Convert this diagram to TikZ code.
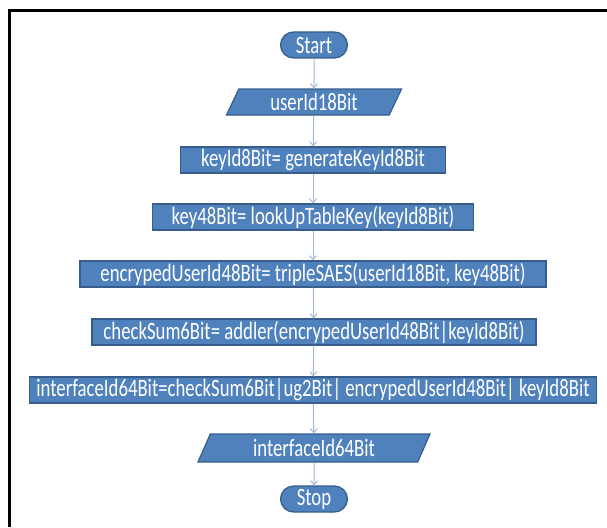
\documentclass[tikz,border=0pt]{standalone}
\usepackage{fontspec}
\newfontfamily\flowfont{Carlito}[FakeStretch=0.75]
\usepackage{tikz}
\usetikzlibrary{shapes,arrows,positioning,calc,arrows.meta}

\definecolor{boxblue}{RGB}{79,129,189}
\definecolor{boxedge}{RGB}{56,93,138}
\definecolor{flowline}{RGB}{160,185,215}

\tikzset{
    base/.style={draw=boxedge, line width=1.2pt, fill=boxblue, text=white,
        font=\flowfont\fontsize{25}{28}\selectfont, inner sep=0pt},
    term/.style={base, rounded rectangle, minimum width=67, minimum height=26},
    io/.style={base, trapezium, trapezium left angle=55, trapezium right angle=125,
        trapezium stretches body, minimum height=26},
    proc/.style={base, rectangle, minimum height=26},
    flow/.style={draw=flowline, line width=1pt, -{Straight Barb[length=4pt,width=7pt]}}
}

\begin{document}
\begin{tikzpicture}[x=1pt, y=-1pt]
    \useasboundingbox (0,0) rectangle (607,527);
    % frame
    \draw [line width=3pt] (9,527) -- (9,11) -- (607,11);

    % flow chart
    \node [term] (start) at (314,45) {Start};
    \node [io, minimum width=175] (userid) at (314,102) {userId18Bit};
    \node [proc, minimum width=265] (keyid) at (313,160) {keyId8Bit= generateKeyId8Bit};
    \node [proc, minimum width=321] (key) at (313,217) {key48Bit= lookUpTableKey(keyId8Bit)};
    \node [proc, minimum width=466] (encrypt) at (313,274) {encrypedUserId48Bit= tripleSAES(userId18Bit, key48Bit)};
    \node [proc, minimum width=444] (checksum) at (314,332) {checkSum6Bit= addler(encrypedUserId48Bit|keyId8Bit)};
    \node [proc, minimum width=567] (iface) at (313,390) {interfaceId64Bit=checkSum6Bit|ug2Bit| encrypedUserId48Bit| keyId8Bit};
    \node [io, minimum width=232, minimum height=28] (ifaceout) at (314,448) {interfaceId64Bit};
    \node [term] (stop) at (314,499) {Stop};

    \draw [flow] (start) -- (userid);
    \draw [flow] (userid) -- (keyid);
    \draw [flow] (keyid) -- (key);
    \draw [flow] (key) -- (encrypt);
    \draw [flow] (encrypt) -- (checksum);
    \draw [flow] (checksum) -- (iface);
    \draw [flow] (iface) -- (ifaceout);
    \draw [flow] (ifaceout) -- (stop);
\end{tikzpicture}
\end{document}
